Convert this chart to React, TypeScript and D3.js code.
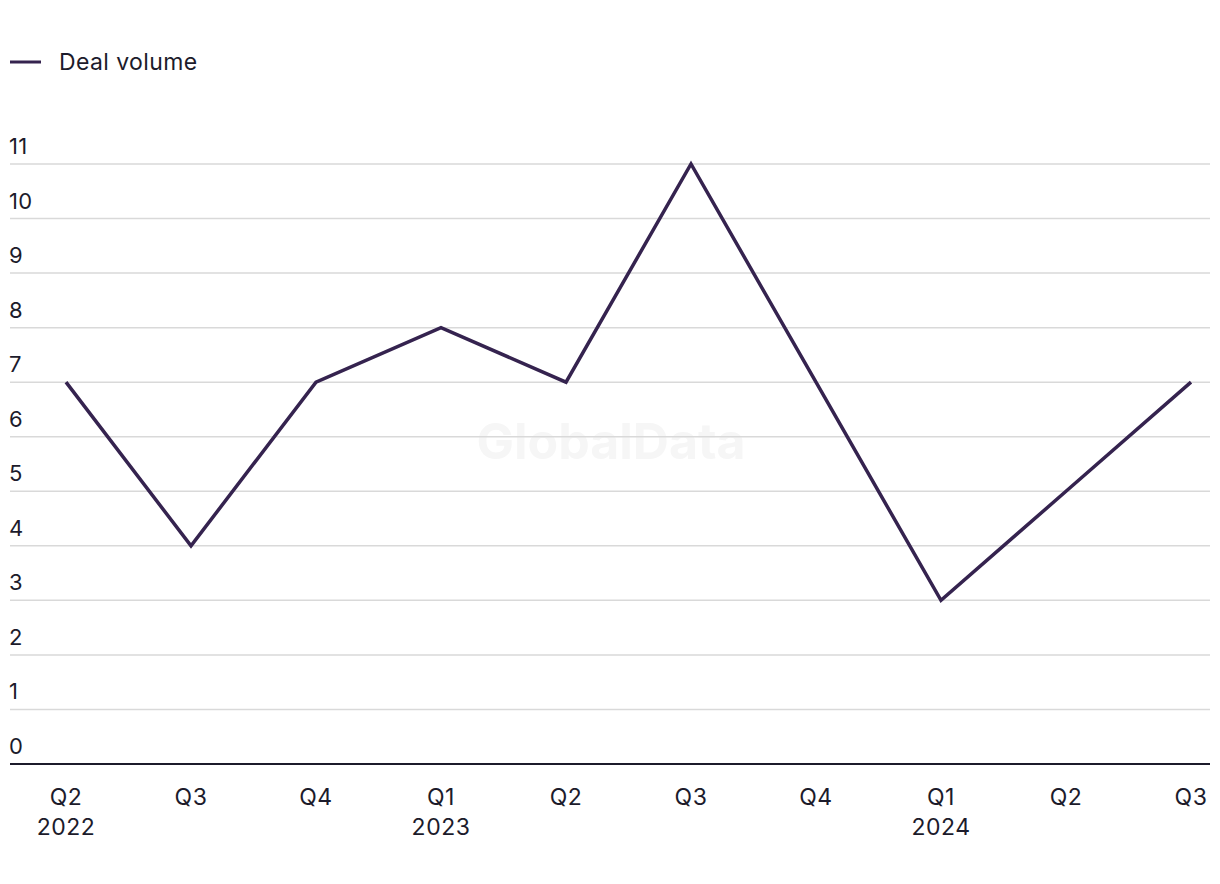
import React from "react";
import * as d3 from "d3";

const quarters = ["Q2", "Q3", "Q4", "Q1", "Q2", "Q3", "Q4", "Q1", "Q2", "Q3"];
const years = ["2022", "", "", "2023", "", "", "", "2024", "", ""];
const dealVolume = [7, 4, 7, 8, 7, 11, 7, 3, 5, 7];
const yTicks = [0, 1, 2, 3, 4, 5, 6, 7, 8, 9, 10, 11];

const W = 1220;
const H = 884;
const FONT = "Inter, 'Noto Sans', sans-serif";
const LINE = "#35234f";
const TEXT = "#1c1b2b";

export default function App() {
  const idx = quarters.map((_, i) => i);
  const x = d3.scalePoint<number>().domain(idx).range([66, 1191]);
  const y = d3.scaleLinear().domain([0, 11]).range([764, 164]);
  const line = d3
    .line<number>()
    .x((_, i) => x(i)!)
    .y((d) => y(d));

  return (
    <svg width={W} height={H} style={{ position: "absolute", left: 0, top: 0 }}>
      <rect width={W} height={H} fill="#fff" />
      <text
        x={611}
        y={459}
        textAnchor="middle"
        fontFamily={FONT}
        fontWeight={700}
        fontSize={50}
        fill="#f6f6f6"
      >
        GlobalData
      </text>
      <line x1={10} x2={41} y1={62} y2={62} stroke={LINE} strokeWidth={3} />
      <text x={59} y={70} fontFamily={FONT} fontSize={23} letterSpacing={0.4} fill={TEXT}>
        Deal volume
      </text>
      {yTicks.map((t) => (
        <g key={t}>
          {t > 0 && (
            <line x1={10} x2={1210} y1={y(t)} y2={y(t)} stroke="#d9d9d9" strokeWidth={1.5} />
          )}
          <text x={9} y={y(t) - 10} fontFamily={FONT} fontSize={22} letterSpacing={0.4} fill={TEXT}>
            {t}
          </text>
        </g>
      ))}
      <line x1={10} x2={1210} y1={y(0)} y2={y(0)} stroke={TEXT} strokeWidth={2} />
      {quarters.map((q, i) => (
        <g key={i}>
          <text x={x(i)} y={805} textAnchor="middle" fontFamily={FONT} fontSize={23} letterSpacing={0.5} fill={TEXT}>
            {q}
          </text>
          {years[i] && (
            <text x={x(i)} y={835} textAnchor="middle" fontFamily={FONT} fontSize={23} letterSpacing={0.5} fill={TEXT}>
              {years[i]}
            </text>
          )}
        </g>
      ))}
      <path d={line(dealVolume) || ""} fill="none" stroke={LINE} strokeWidth={3.5} strokeLinejoin="miter" />
    </svg>
  );
}
